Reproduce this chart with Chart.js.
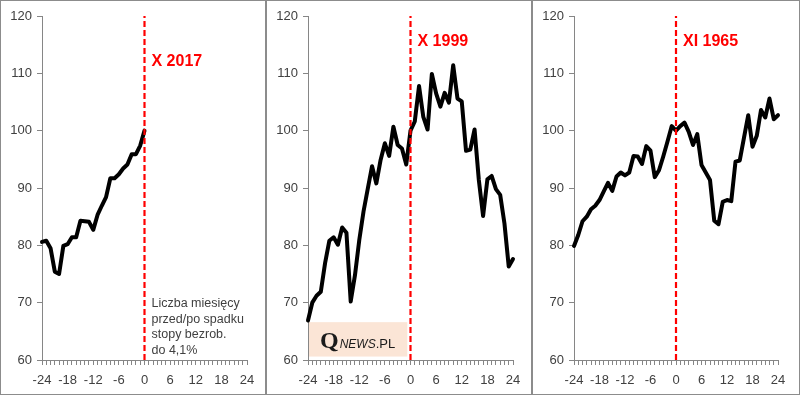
<!DOCTYPE html>
<html>
<head>
<meta charset="utf-8">
<script src="https://cdn.jsdelivr.net/npm/chart.js@4.4.1/dist/chart.umd.min.js"></script>
<style>
  body { margin: 0; background: #fff; }
  #wrap { position: relative; width: 800px; height: 395px; }
  .panel { position: absolute; top: 0; height: 395px; box-sizing: border-box; border: 1px solid #8c8c8c; background: #fff; }
  .panel canvas { display: block; }
</style>
</head>
<body>
<div id="wrap">
  <div class="panel" style="left:0;width:266px"><canvas id="c1" width="264" height="393"></canvas></div>
  <div class="panel" style="left:266px;width:266px"><canvas id="c2" width="264" height="393"></canvas></div>
  <div class="panel" style="left:532px;width:268px"><canvas id="c3" width="266" height="393"></canvas></div>
</div>
<script>
// months before/after the drop of the unemployment rate
const months = [-24, -23, -22, -21, -20, -19, -18, -17, -16, -15, -14, -13, -12, -11, -10, -9, -8, -7, -6, -5, -4, -3, -2, -1, 0,
  1, 2, 3, 4, 5, 6, 7, 8, 9, 10, 11, 12, 13, 14, 15, 16, 17, 18, 19, 20, 21, 22, 23, 24];
const tickLabels = [-24, -18, -12, -6, 0, 6, 12, 18, 24];
const yTicks = [60, 70, 80, 90, 100, 110, 120];

const oct2017 = [80.6, 80.8, 79.5, 75.4, 75.0, 79.9, 80.2, 81.4, 81.4, 84.3, 84.2, 84.1, 82.7, 85.3, 86.9, 88.4,
  91.7, 91.7, 92.4, 93.4, 94.1, 95.9, 95.9, 97.4, 100.0];
const oct1999 = [66.9, 70.0, 71.2, 71.9, 76.9, 80.8, 81.4, 80.1, 83.1, 82.2, 70.2, 74.8, 80.9, 85.9, 89.9, 93.8,
  90.8, 94.9, 97.8, 95.6, 100.7, 97.5, 96.9, 94.1, 100.0,
  101.6, 107.8, 102.4, 100.2, 109.9, 106.5, 104.2, 106.6, 104.9, 111.4, 105.6, 105.1, 96.5, 96.7, 100.2,
  91.4, 85.1, 91.5, 92.1, 89.8, 88.8, 83.8, 76.3, 77.6];
const nov1965 = [79.9, 81.8, 84.2, 85.0, 86.3, 86.9, 87.9, 89.4, 90.9, 89.5, 92.0, 92.7, 92.2, 92.7, 95.6, 95.5,
  94.2, 97.3, 96.5, 91.9, 93.1, 95.5, 98.1, 100.8, 100.0,
  100.8, 101.4, 99.8, 97.5, 99.4, 94.0, 92.7, 91.4, 84.3, 83.7, 87.6, 87.9, 87.7, 94.6, 94.8,
  98.8, 102.7, 97.2, 99.1, 103.6, 102.3, 105.6, 102.0, 102.7];

const noteLines = ['Liczba miesięcy', 'przed/po spadku', 'stopy bezrob.', 'do 4,1%'];

Chart.defaults.font.family = "'Liberation Sans', Arial, sans-serif";
Chart.defaults.font.size = 13;
Chart.defaults.color = '#404040';

function points(values) {
  return values.map((v, i) => ({ x: months[i], y: v }));
}

// red title next to the dashed line, plus optional note / logo
function extrasPlugin(title, titleY, note, logo) {
  return {
    id: 'extras',
    beforeDatasetsDraw(chart) {
      if (!logo) return;
      const { ctx, scales: { x, y } } = chart;
      const left = x.left + 1, right = x.getPixelForValue(-0.75);
      const top = y.getPixelForValue(66.6), bottom = y.getPixelForValue(60.6);
      ctx.save();
      ctx.fillStyle = '#fbe5d6';
      ctx.fillRect(left, top, right - left, bottom - top);
      ctx.fillStyle = '#1a1a1a';
      ctx.textBaseline = 'alphabetic';
      let tx = left + 11;
      const base = bottom - 9;
      ctx.font = "bold 24px 'Liberation Serif', serif";
      ctx.fillText('Q', tx, base);
      tx += ctx.measureText('Q').width + 1;
      ctx.font = "italic 12px 'Liberation Sans', sans-serif";
      ctx.fillText('NEWS', tx, base);
      tx += ctx.measureText('NEWS').width;
      ctx.font = "13px 'Liberation Sans', sans-serif";
      ctx.fillText('.PL', tx, base);
      ctx.restore();
    },
    afterDraw(chart) {
      const { ctx, scales: { x, y } } = chart;
      const x0 = x.getPixelForValue(0) + 7;
      ctx.save();
      ctx.fillStyle = '#ff0000';
      ctx.font = "bold 16px 'Liberation Sans', sans-serif";
      ctx.textBaseline = 'middle';
      ctx.fillText(title, x0, y.getPixelForValue(titleY));
      if (note) {
        ctx.fillStyle = '#404040';
        ctx.font = "12.5px 'Liberation Sans', sans-serif";
        const y0 = y.getPixelForValue(69.8);
        note.forEach((line, i) => ctx.fillText(line, x0, y0 + i * 15.6));
      }
      ctx.restore();
    }
  };
}

function drawPanel(id, values, title, titleY, padRight, note, logo) {
  return new Chart(document.getElementById(id), {
    type: 'line',
    data: {
      datasets: [
        {
          data: [{ x: 0, y: 60 }, { x: 0, y: 120 }],
          borderColor: '#ff0000', borderWidth: 2.2, borderDash: [6, 3], pointRadius: 0
        },
        {
          data: points(values),
          borderColor: '#000', borderWidth: 4, pointRadius: 0, tension: 0,
          borderJoinStyle: 'round', borderCapStyle: 'round', clip: false
        }
      ]
    },
    options: {
      responsive: false,
      animation: false,
      events: [],
      layout: { padding: { top: 15, right: padRight, left: 0, bottom: 0 } },
      plugins: { legend: { display: false }, tooltip: { enabled: false } },
      scales: {
        x: {
          type: 'linear', min: -24, max: 24,
          grid: { drawOnChartArea: false, tickLength: 5, color: '#868686' },
          border: { color: '#868686' },
          ticks: {
            stepSize: 1, autoSkip: false, maxRotation: 0, padding: 8,
            callback: v => tickLabels.includes(v) ? String(v) : ''
          },
          afterFit: s => { s.height = 34; }
        },
        y: {
          min: yTicks[0], max: yTicks[yTicks.length - 1],
          grid: { drawOnChartArea: false, tickLength: 5, color: '#868686' },
          border: { color: '#868686' },
          ticks: { stepSize: 10, padding: 5 },
          afterFit: s => { s.width = 41; }
        }
      }
    },
    plugins: [extrasPlugin(title, titleY, note, logo)]
  });
}

drawPanel('c1', oct2017, 'X 2017', 112, 18, noteLines, false);
drawPanel('c2', oct1999, 'X 1999', 115.6, 18, null, true);
drawPanel('c3', nov1965, 'XI 1965', 115.6, 21, null, false);
</script>
</body>
</html>
